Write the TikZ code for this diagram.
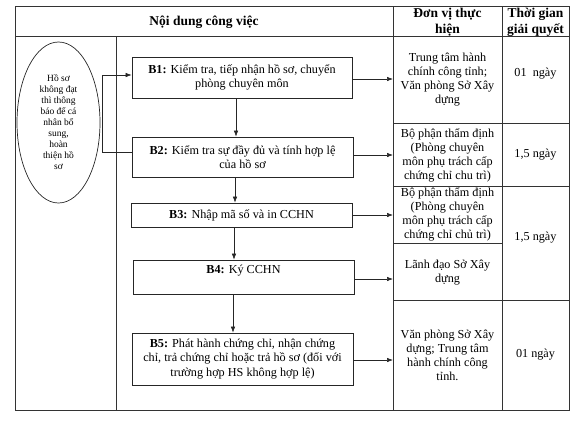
\documentclass[tikz,border=0pt]{standalone}
\usepackage{fontspec}
\setmainfont{Liberation Serif}
\usetikzlibrary{arrows.meta,shapes.geometric}
\begin{document}
\begin{tikzpicture}[x=1pt,y=-1pt,
  grid/.style={draw=black!80, line width=0.7pt},
  box/.style={draw=black!85, line width=0.8pt, align=center, inner sep=1pt, font=\fontsize{12.2}{14.5}\selectfont},
  cell/.style={align=center, inner sep=0pt, font=\fontsize{12.2}{14}\selectfont},
  hcell/.style={align=center, inner sep=0pt, font=\bfseries\fontsize{13.5}{16}\selectfont},
  arr/.style={draw=black!85, line width=0.6pt, -{Latex[length=6pt,width=4.5pt]}}]
\useasboundingbox (0,0) rectangle (576,421);
% table grid
\draw[grid] (15,6) rectangle (569,410);
\draw[grid] (15,36) -- (569,36);
\draw[grid] (116,36) -- (116,410);
\draw[grid] (393,6) -- (393,410);
\draw[grid] (502,6) -- (502,410);
\draw[grid] (393,123) -- (569,123);
\draw[grid] (393,186) -- (569,186);
\draw[grid] (393,243) -- (502,243);
\draw[grid] (393,300) -- (569,300);
\coordinate (cD) at (393,0);
% header
\node[hcell] (h1) at (204,22) {Nội dung công việc};
\node[hcell] (h2) at (447.5,22) {Đơn vị thực\\hiện};
\node[hcell] (h3) at (535.5,22) {Thời gian\\giải quyết};
% right column cells
\node[cell] (d1) at (447.5,80) {Trung tâm hành\\chính công tỉnh;\\Văn phòng Sở Xây\\dựng};
\node[cell] (t1) at (535.5,74) {01\ \ ngày};
\node[cell] (d2) at (447.5,155) {Bộ phận thẩm định\\(Phòng chuyên\\môn phụ trách cấp\\chứng chỉ chu trì)};
\node[cell] (t2) at (535.5,155) {1,5 ngày};
\node[cell] (d3) at (447.5,214) {Bộ phận thẩm định\\(Phòng chuyên\\môn phụ trách cấp\\chứng chỉ chủ trì)};
\node[cell] (t3) at (535.5,238) {1,5 ngày};
\node[cell] (d4) at (447.5,273) {Lãnh đạo Sở Xây\\dựng};
\node[cell] (d5) at (447.5,355) {Văn phòng Sở Xây\\dựng; Trung tâm\\hành chính công\\tỉnh.};
\node[cell] (t5) at (535.5,355) {01 ngày};
% ellipse
\node[draw=black!85, line width=0.7pt, ellipse, minimum width=83, minimum height=161, align=center, inner sep=0pt,
  font=\fontsize{9.5}{11}\selectfont] (E) at (58.5,122.5)
  {Hồ sơ\\không đạt\\thì thông\\báo để cá\\nhân bổ\\sung,\\hoàn\\thiện hồ\\sơ};
% step boxes
\node[box, minimum width=220, minimum height=41] (B1) at (242,77.5)
  {\textbf{B1:} Kiểm tra, tiếp nhận hồ sơ, chuyển\\phòng chuyên môn};
\node[box, minimum width=221, minimum height=40] (B2) at (242.5,157)
  {\textbf{B2:} Kiểm tra sự đầy đủ và tính hợp lệ\\của hồ sơ};
\node[box, minimum width=221, minimum height=24] (B3) at (241.5,215)
  {\textbf{B3:} Nhập mã số và in CCHN};
\node[box, minimum width=221, minimum height=34] (B4) at (243.5,277) {};
\node[cell] (B4t) at (243.5,271) {\textbf{B4:} Ký CCHN};
\node[box, minimum width=221, minimum height=52] (B5) at (242.5,359)
  {\textbf{B5:} Phát hành chứng chỉ, nhận chứng\\chỉ, trả chứng chỉ hoặc trả hồ sơ (đối với\\trường hợp HS không hợp lệ)};
% horizontal arrows to the column
\draw[arr] ([yshift=-1.5pt]B1.east) -- ([yshift=-1.5pt]B1.east -| cD);
\draw[arr] ([yshift=2pt]B2.east) -- ([yshift=2pt]B2.east -| cD);
\draw[arr] (B3.east) -- (B3.east -| cD);
\draw[arr] ([yshift=-2pt]B4.east) -- ([yshift=-2pt]B4.east -| cD);
\draw[arr] ([yshift=-1pt]B5.east) -- ([yshift=-1pt]B5.east -| cD);
% vertical arrows
\draw[arr] ([xshift=-6pt]B1.south) -- ([xshift=-6pt]B1.south |- B2.north);
\draw[arr] ([xshift=-7.5pt]B2.south) -- ([xshift=-7.5pt]B2.south |- B3.north);
\draw[arr] ([xshift=-7.5pt]B3.south) -- ([xshift=-7.5pt]B3.south |- B4.north);
\draw[arr] ([xshift=-10.5pt]B4.south) -- ([xshift=-10.5pt]B4.south |- B5.north);
% feedback loop
\draw[arr] ([yshift=5pt]B2.west) -- ++(-29,0) |- ([yshift=2.5pt]B1.west);
\end{tikzpicture}
\end{document}
